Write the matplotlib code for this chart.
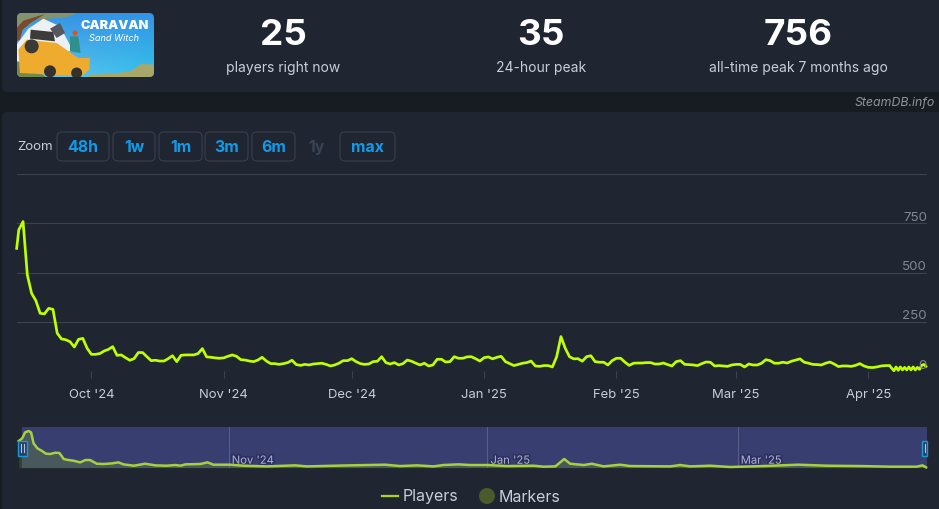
import numpy as np
import pandas as pd
import matplotlib
matplotlib.use('Agg')
import matplotlib.pyplot as plt
import matplotlib.dates as mdates
import matplotlib.patheffects as pe
from matplotlib.patches import FancyBboxPatch, Polygon, Circle, Rectangle

plt.rcParams['font.family'] = ['Inter', 'DejaVu Sans']

# daily player counts
first_point = [623]
players_sep_nov = [717, 759, 488, 395, 358, 294, 291, 319, 314, 193, 164, 160, 150, 123, 162, 167,
                   117, 86, 86, 90, 103, 111, 125, 81, 83, 69, 56, 64, 95, 95, 74, 54, 56, 52, 52,
                   64, 79, 49, 81, 83, 83, 83, 90, 115, 73, 71, 68, 66, 68, 76, 83, 76, 59, 57, 52,
                   49, 57, 71, 52, 39, 39, 35, 39, 44, 56, 34, 30, 35, 32, 37, 39]
players_nov_feb = [41, 35, 27, 32, 41, 54, 54, 64, 49, 39, 35, 37, 49, 51, 74, 44, 37, 44, 32, 39,
                   57, 51, 41, 32, 41, 27, 32, 61, 61, 47, 49, 74, 66, 66, 73, 74, 64, 52, 69, 73,
                   63, 71, 76, 49, 39, 29, 35, 41, 44, 52, 27, 25, 29, 29, 22, 74, 176, 117, 74, 63,
                   64, 51, 74, 79, 49, 46, 46, 32, 54, 66, 66, 46, 30]
players_feb_apr = [41, 42, 42, 44, 44, 37, 37, 42, 34, 27, 49, 54, 35, 34, 32, 29, 39, 47, 46, 27,
                   29, 27, 25, 32, 35, 35, 22, 37, 32, 32, 41, 59, 54, 41, 41, 46, 42, 51, 57, 63,
                   46, 41, 35, 34, 32, 41, 47, 37, 24, 27, 27, 25, 30, 39, 27, 20, 19, 22, 27, 29, 29]
# last week is plotted every 12 hours
players_last_week = [15, 3, 22, 5, 22, 7, 20, 7, 22, 7, 22, 7, 20, 10, 30, 35, 25]

# the navigator is smoother than the main line, so it is read separately
# (days relative to 1 Nov 2024, players)
nav_days = [-49.5, -48.7, -48.0, -47.2, -46.6, -46.0, -45.1, -44.1, -43.1, -42.1, -40.9, -39.9, -38.9,
            -37.8, -36.6, -35.0, -33.8, -32.7, -31.1, -29.5, -27.5, -26.0, -24.8, -22.4, -19.7, -17.3,
            -14.6, -12.6, -11.4, -10.2, -6.7, -5.0, -3.6, 0.3, 3.5, 9.0, 15.7, 18.4, 28.6, 36.9, 40.4,
            44.4, 48.3, 50.6, 54.2, 56.9, 61.0, 65.6, 71.9, 74.2, 77.0, 79.1, 80.5, 83.7, 85.6, 88.4,
            92.3, 94.6, 104.1, 106.4, 108.8, 113.5, 118.2, 126.1, 134.3, 141.0, 148.9, 155.9, 162.2,
            163.6, 164.4]
nav_players = [550, 605, 728, 756, 728, 501, 398, 350, 289, 282, 309, 302, 179, 158, 144, 110, 158, 158,
               82, 76, 89, 110, 69, 41, 82, 48, 41, 55, 41, 69, 76, 110, 62, 62, 41, 27, 48, 27, 48, 62,
               34, 48, 27, 55, 69, 55, 55, 34, 41, 21, 27, 179, 82, 55, 82, 27, 62, 34, 27, 55, 27, 41,
               14, 34, 62, 41, 34, 21, 21, 48, 7]

month_ticks = ['2024-10-01', '2024-11-01', '2024-12-01', '2025-01-01', '2025-02-01', '2025-03-01', '2025-04-01']
month_labels = ["Oct '24", "Nov '24", "Dec '24", "Jan '25", "Feb '25", "Mar '25", "Apr '25"]
y_ticks = [0, 250, 500, 750, 1000]
y_labels = ['0', '250', '500', '750', '']
nav_ticks = ['2024-11-01', '2025-01-01', '2025-03-01']
nav_labels = ["Nov '24", "Jan '25", "Mar '25"]

stats = [('25', 'players right now', 283), ('35', '24-hour peak', 541), ('756', 'all-time peak 7 months ago', 798)]
buttons = [('48h', 57, 109), ('1w', 113, 155), ('1m', 159, 202), ('3m', 205, 248), ('6m', 252, 295), ('max', 340, 395)]

dates = pd.DatetimeIndex(
    [pd.Timestamp('2024-09-13 12:00')]
    + list(pd.date_range('2024-09-14', periods=len(players_sep_nov)))
    + list(pd.date_range('2024-11-24', periods=len(players_nov_feb)))
    + list(pd.date_range('2025-02-05', periods=len(players_feb_apr)))
    + list(pd.date_range('2025-04-06 12:00', periods=len(players_last_week), freq='12h')))
players = np.array(first_point + players_sep_nov + players_nov_feb + players_feb_apr + players_last_week)
nav_dates = pd.Timestamp('2024-11-01') + pd.to_timedelta(nav_days, unit='D')

W, H = 939, 509
PAGE = '#171b22'
PANEL = '#1f2632'
GRID = '#3b434f'
LINE = '#bfff00'
TEXT = '#c8ced6'
BLUE = '#0f9be8'


def rect_for(x0, y0, x1, y1):
    return [x0 / W, 1 - y1 / H, (x1 - x0) / W, (y1 - y0) / H]


fig = plt.figure(figsize=(W / 100, H / 100), dpi=100, facecolor=PAGE)

# page layer in pixel coordinates
page = fig.add_axes([0, 0, 1, 1])
page.set_xlim(0, W)
page.set_ylim(H, 0)
page.axis('off')

for y0, y1 in [(-20, 92), (112, 540)]:
    page.add_patch(FancyBboxPatch((2, y0), 960, y1 - y0, boxstyle='round,pad=0,rounding_size=6',
                                  fc=PANEL, ec='none'))

for big, small, cx in stats:
    page.text(cx, 35.5, big, color='white', fontsize=26.5, fontweight='bold', ha='center', va='center')
    page.text(cx, 68, small, color=TEXT, fontsize=10, ha='center', va='center')

page.text(935, 102.5, 'SteamDB.info', color='#8b939e', fontsize=8.9, style='italic', ha='right', va='center')

# zoom buttons
page.text(17, 147, 'Zoom', color=TEXT, fontsize=9.6, va='center')
for label, x0, x1 in buttons:
    page.add_patch(FancyBboxPatch((x0, 132), x1 - x0, 29, boxstyle='round,pad=0,rounding_size=5',
                                  fc='none', ec='#38414f', lw=0.75))
    page.text((x0 + x1) / 2, 147.5, label, color=BLUE, fontsize=11.4, fontweight='bold', ha='center', va='center')
page.text(316, 147.5, '1y', color='#3a4354', fontsize=11.4, fontweight='bold', ha='center', va='center')

# game thumbnail
clip = FancyBboxPatch((17, 13), 137, 64, boxstyle='round,pad=0,rounding_size=5', fc='none', ec='none')
page.add_patch(clip)
gy, gx = np.mgrid[0:1:40j, 0:1:80j]
sky = np.dstack([0.20 + 0.25 * gy * (1 - gx), 0.58 + 0.18 * gy, 0.90 + 0.02 * gy]).clip(0, 1)
im = page.imshow(sky, extent=(17, 154, 77, 13), aspect='auto', zorder=1)
im.set_clip_path(clip)
page.set_xlim(0, W)
page.set_ylim(H, 0)


def thumb(xz, yz):
    return (10 + xz / 3, 8 + yz / 3)


def thumb_poly(points, color, z=2):
    p = Polygon([thumb(*q) for q in points], closed=True, fc=color, ec='none', zorder=z)
    page.add_patch(p)
    p.set_clip_path(clip)


thumb_poly([(20, 15), (200, 15), (170, 28), (80, 35), (20, 70)], '#86926f')
thumb_poly([(20, 110), (55, 62), (100, 32), (150, 55), (190, 130), (100, 130), (20, 170)], '#eef1f4')
thumb_poly([(20, 60), (40, 38), (105, 18), (62, 45), (38, 65), (30, 95), (20, 100)], '#7a4a2c', 3)
thumb_poly([(20, 160), (60, 165), (110, 210), (20, 210)], '#6f8a4e')
thumb_poly([(225, 210), (240, 200), (300, 198), (360, 190), (395, 168), (435, 170), (435, 210)], '#a9a66a')
thumb_poly([(25, 125), (50, 95), (140, 105), (205, 150), (240, 150), (238, 185), (215, 205), (30, 195)], '#eeab2e', 4)
thumb_poly([(60, 92), (62, 65), (130, 72), (135, 100)], '#3c3c3a', 3)
thumb_poly([(120, 62), (150, 45), (165, 75), (140, 90)], '#55585e', 5)
thumb_poly([(180, 85), (205, 85), (212, 135), (180, 130)], '#2f8f8a', 5)
for xz, yz, r, color in [(65, 115, 7, '#3a3a36'), (120, 190, 6, '#34312c'), (200, 195, 5.5, '#34312c'), (195, 75, 2.5, '#d8552a')]:
    c = Circle(thumb(xz, yz), r, fc=color, ec='none', zorder=6)
    page.add_patch(c)
    c.set_clip_path(clip)
page.text(*thumb(313, 53), 'CARAVAN', color='white', fontsize=9.2, fontweight='black', ha='center', va='center', zorder=7)
page.text(*thumb(312, 92), 'Sand Witch', color='white', fontsize=6.6, style='italic', ha='center', va='center', zorder=7)

# main chart
ax = fig.add_axes(rect_for(17, 174, 927, 371.3))
ax.patch.set_alpha(0)
ax.plot(dates, players, color=LINE, lw=1.95, solid_joinstyle='round', zorder=3, clip_on=False)
ax.set_xlim(pd.Timestamp('2024-10-01') - pd.Timedelta(days=17.42), pd.Timestamp('2025-04-01') + pd.Timedelta(days=13.75))
ax.set_ylim(0, 1000)
ax.set_yticks(y_ticks)
ax.set_yticklabels([])
ax.set_xticks(pd.to_datetime(month_ticks))
ax.set_xticklabels(month_labels)
ax.tick_params(axis='x', color=GRID, length=5, width=0.75, labelcolor=TEXT, labelsize=9.4, pad=7.5)
ax.tick_params(axis='y', length=0)
ax.grid(axis='y', color=GRID, lw=0.8)
ax.set_axisbelow(True)
for s in ax.spines.values():
    s.set_visible(False)
for v, label in zip(y_ticks, y_labels):
    ax.annotate(label, xy=(1, v), xycoords=ax.get_yaxis_transform(), xytext=(0, -0.3), textcoords='offset points',
                ha='right', va='bottom', color='#80888f', fontsize=9.6, zorder=5)

# navigator
nav = fig.add_axes(rect_for(17, 427, 927, 467.7))
nav.set_facecolor(PANEL)
nav_start = pd.Timestamp('2024-09-12 02:00')
nav_end = pd.Timestamp('2025-04-14 15:00')
sel_start = pd.Timestamp('2024-09-13 06:00')
nav.axvspan(sel_start, nav_end, color='#383f70', lw=0, zorder=0)
nav.fill_between(nav_dates, nav_players, color='#a2d500', alpha=0.17, lw=0, zorder=1)
nav.plot(nav_dates, nav_players, color='#a6d040', lw=1.8, solid_joinstyle='round', zorder=3, clip_on=False)
nav.set_xlim(nav_start, nav_end)
nav.set_ylim(0, 839)
nav.set_yticks([])
nav.set_xticks(pd.to_datetime(nav_ticks))
nav.set_xticklabels([])
nav.tick_params(axis='x', length=0)
nav.grid(axis='x', color='#585f8a', lw=0.7)
nav.set_axisbelow(True)
for s in nav.spines.values():
    s.set_visible(False)
for t, label in zip(pd.to_datetime(nav_ticks), nav_labels):
    nav.annotate(label, xy=(mdates.date2num(t), 0), xycoords=nav.get_xaxis_transform(), xytext=(3, 7), textcoords='offset pixels',
                 ha='left', va='center', color='#aeb3d2', fontsize=8.1, zorder=2,
                 path_effects=[pe.withStroke(linewidth=2.5, foreground='#2b3060')])

# navigator handles
page_top = fig.add_axes([0, 0, 1, 1])
page_top.set_xlim(0, W)
page_top.set_ylim(H, 0)
page_top.axis('off')
page_top.add_patch(Rectangle((18, 440.5), 8.5, 15, fc='#2c3f66', ec='#1a9ad6', lw=1))
for bx in (21, 23.5):
    page_top.plot([bx, bx], [444, 452], color='#a8c4e0', lw=0.8)
page_top.add_patch(Rectangle((922, 440.5), 4.7, 15, fc='#2c3f66', ec='#1a9ad6', lw=1))
page_top.plot([925, 925], [444, 452], color='#a8c4e0', lw=0.8)

# legend
page_top.plot([382, 398], [496, 496], color='#a9d420', lw=1.6)
page_top.text(403, 497, 'Players', color=TEXT, fontsize=11.5, va='center')
page_top.add_patch(Circle((487, 496), 8, fc='#4a5a2a', ec='none'))
page_top.text(499, 497, 'Markers', color=TEXT, fontsize=11.5, va='center')

fig.savefig('out.png', dpi=100, facecolor=PAGE)
